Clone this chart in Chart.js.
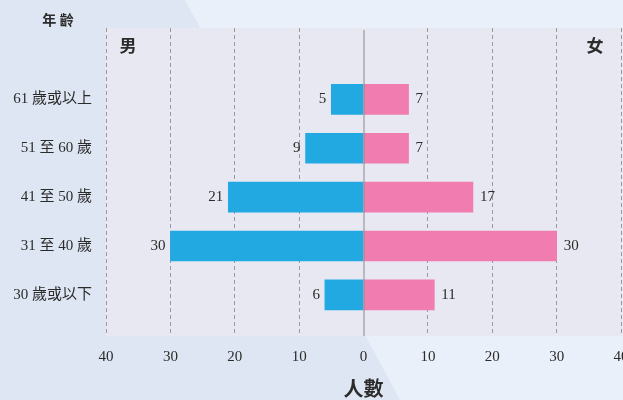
<!DOCTYPE html>
<html>
<head>
<meta charset="utf-8">
<script src="https://cdn.jsdelivr.net/npm/chart.js@4.4.0/dist/chart.umd.min.js"></script>
<style>
  html, body { margin: 0; padding: 0; background: #e6ecf6; }
  #wrap { width: 623px; height: 400px; }
</style>
</head>
<body>
<div id="wrap"><canvas id="chart"></canvas></div>
<script>
// data
const ageGroups = ['61 歲或以上', '51 至 60 歲', '41 至 50 歲', '31 至 40 歲', '30 歲或以下'];
const maleCounts = [5, 9, 21, 30, 6];
const femaleCounts = [7, 7, 17, 30, 11];
const xTicks = [-40, -30, -20, -10, 0, 10, 20, 30, 40];

const FONT = "'Liberation Serif', 'Noto Sans CJK TC', serif";
const TEXT = '#2b2b2b';

// background, plot panel, zero line, value labels and corner texts
const decor = {
  id: 'decor',
  beforeDraw(chart) {
    const { ctx, chartArea: a, width, height } = chart;
    ctx.save();
    ctx.fillStyle = '#eaf0f9';
    ctx.fillRect(0, 0, width, height);
    ctx.fillStyle = '#dfe6f3';
    ctx.beginPath();
    ctx.moveTo(0, 0);
    ctx.lineTo(185, 0);
    ctx.lineTo(400, height);
    ctx.lineTo(0, height);
    ctx.closePath();
    ctx.fill();
    ctx.fillStyle = '#e8e8f2';
    ctx.fillRect(a.left, a.top, a.right - a.left + 2, a.bottom - a.top);
    ctx.restore();
  },
  afterDatasetsDraw(chart) {
    const { ctx, chartArea: a, scales } = chart;
    const x0 = scales.x.getPixelForValue(0);
    ctx.save();
    ctx.strokeStyle = '#8a8a8a';
    ctx.lineWidth = 1;
    ctx.beginPath();
    ctx.moveTo(x0 + 0.5, a.top + 2);
    ctx.lineTo(x0 + 0.5, a.bottom);
    ctx.stroke();

    ctx.font = '15px ' + FONT;
    ctx.fillStyle = TEXT;
    ctx.textBaseline = 'middle';
    chart.data.datasets.forEach((ds, di) => {
      chart.getDatasetMeta(di).data.forEach((bar, i) => {
        const v = Math.abs(ds.data[i].x);
        if (ds.data[i].x < 0) {
          ctx.textAlign = 'right';
          ctx.fillText(v, bar.x - 5, bar.y);
        } else {
          ctx.textAlign = 'left';
          ctx.fillText(v, bar.x + 7, bar.y);
        }
      });
    });

    ctx.textAlign = 'center';
    ctx.font = 'bold 17px ' + FONT;
    ctx.fillText('男', a.left + 22, 48);
    ctx.fillText('女', a.right - 26, 48);
    ctx.font = 'bold 14px ' + FONT;
    ctx.fillText('年 齡', 58, 21);
    ctx.restore();
  }
};

new Chart(document.getElementById('chart'), {
  type: 'bar',
  data: {
    datasets: [
      {
        label: '男',
        data: maleCounts.map((v, i) => ({ x: -v, y: i })),
        backgroundColor: '#23a9e1',
        barThickness: 30,
        grouped: false
      },
      {
        label: '女',
        data: femaleCounts.map((v, i) => ({ x: v, y: i })),
        backgroundColor: '#f17db0',
        barThickness: 30,
        grouped: false
      }
    ]
  },
  options: {
    indexAxis: 'y',
    responsive: true,
    maintainAspectRatio: false,
    animation: false,
    layout: { padding: { top: 28, right: 2, left: 0, bottom: 0 } },
    plugins: {
      legend: { display: false },
      tooltip: { enabled: false }
    },
    scales: {
      x: {
        type: 'linear',
        min: -40,
        max: 40,
        afterBuildTicks: (s) => { s.ticks = xTicks.map(v => ({ value: v })); },
        afterFit: (s) => { s.height = 64; s.paddingLeft = 0; s.paddingRight = 0; },
        ticks: {
          padding: 12,
          color: TEXT,
          font: { family: FONT, size: 15 },
          callback: (v) => Math.abs(v)
        },
        grid: {
          color: (c) => c.tick && c.tick.value === 0 ? 'rgba(0,0,0,0)' : '#999999',
          lineWidth: 1,
          drawTicks: false
        },
        border: { display: false, dash: [4, 3] },
        title: {
          display: true,
          text: '人數',
          color: TEXT,
          font: { family: FONT, size: 20, weight: 'bold', lineHeight: 0.9 },
          padding: { top: 0, bottom: 0 }
        }
      },
      y: {
        type: 'linear',
        reverse: true,
        offset: false,
        min: -1.46,
        max: 4.84,
        afterBuildTicks: (s) => { s.ticks = ageGroups.map((_, i) => ({ value: i })); },
        afterFit: (s) => { s.width = 106; },
        ticks: {
          padding: 14,
          color: TEXT,
          font: { family: FONT, size: 15 },
          callback: (v) => ageGroups[v] || ''
        },
        grid: { display: false, drawTicks: false, offset: false },
        border: { display: false }
      }
    }
  },
  plugins: [decor]
});
</script>
</body>
</html>
